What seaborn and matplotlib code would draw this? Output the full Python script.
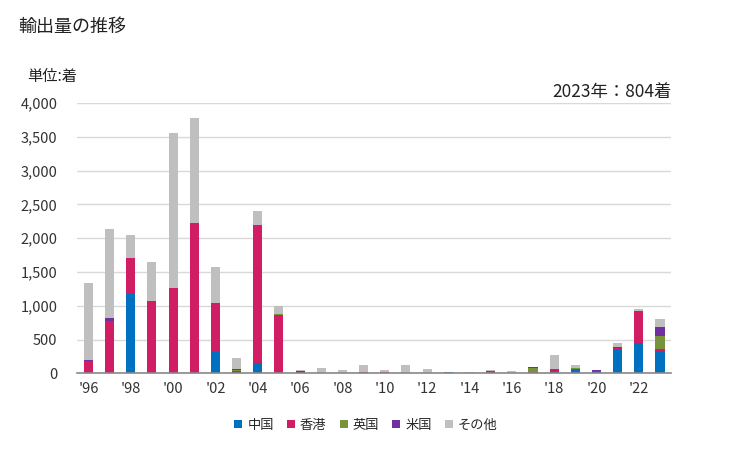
import matplotlib
matplotlib.use("Agg")
import matplotlib.pyplot as plt
import seaborn as sns
import pandas as pd
import numpy as np
from matplotlib.patches import Patch

years = list(range(1996, 2024))
china = [0, 0, 1180, 0, 0, 0, 316, 0, 148, 0, 0, 0, 0, 0, 0, 0, 0, 20, 0, 0, 0, 0, 30, 49, 30, 356, 449, 330]
hongkong = [180, 775, 528, 1071, 1264, 2227, 726, 40, 2049, 864, 20, 0, 0, 20, 25, 0, 0, 0, 0, 35, 0, 20, 34, 15, 0, 25, 474, 30]
uk = [0, 0, 0, 0, 0, 0, 0, 15, 0, 15, 0, 0, 0, 0, 0, 0, 0, 0, 0, 0, 0, 60, 0, 15, 0, 0, 0, 193]
usa = [15, 45, 0, 0, 0, 0, 0, 10, 0, 0, 15, 0, 0, 0, 0, 0, 0, 0, 0, 0, 0, 15, 0, 0, 15, 10, 0, 133]
other = [1143, 1318, 341, 578, 2296, 1555, 533, 162, 207, 118, 15, 80, 50, 103, 25, 123, 64, 0, 20, 15, 30, 0, 203, 40, 10, 58, 30, 118]
series_names = ["中国", "香港", "英国", "米国", "その他"]
colors = ["#0070C0", "#D11D64", "#77933C", "#7030A0", "#BFBFBF"]

sns.set_theme(style="white")
plt.rcParams['font.family'] = ['Noto Sans CJK JP', 'DejaVu Sans']

labels = [str(y) for y in years]
data = [china, hongkong, uk, usa, other]
cum = np.cumsum(np.array(data), axis=0)

fig = plt.figure(figsize=(7.29, 4.5), dpi=100)
ax = fig.add_axes([0.1056, 0.1704, 0.8148, 0.6007])

for i in range(len(series_names) - 1, -1, -1):
    df = pd.DataFrame({"year": labels, "value": cum[i]})
    sns.barplot(data=df, x="year", y="value", order=labels, color=colors[i],
                width=0.43, saturation=1, ax=ax, linewidth=0)

ax.set_xlim(-0.54, 27.52)
ax.set_ylim(0, 4000)
ax.set_yticks(np.arange(0, 4001, 500))
ax.set_yticklabels([f"{int(v):,}" for v in np.arange(0, 4001, 500)], fontsize=10.5, color="#333333")
ax.yaxis.grid(True, color="#D9D9D9", linewidth=1)
ax.set_axisbelow(True)
ax.set_xticks(range(len(years)))
ax.set_xticklabels([("'" + str(y)[2:]) if y % 2 == 0 else "" for y in years], fontsize=10.5, color="#333333")
ax.tick_params(axis="y", length=0, pad=14)
ax.tick_params(axis="x", length=0, pad=6)
ax.set_xlabel("")
ax.set_ylabel("")
for s in ["top", "right", "left"]:
    ax.spines[s].set_visible(False)
ax.spines["bottom"].set_color("#888888")
ax.spines["bottom"].set_linewidth(1.2)

fig.text(18 / 729, 1 - 27 / 450, "輸出量の推移", fontsize=13, va="center", ha="left", color="#222222")
fig.text(27 / 729, 1 - 77 / 450, "単位:着", fontsize=11, va="center", ha="left", color="#222222")
fig.text(672 / 729, 1 - 92 / 450, "2023年：804着", fontsize=12.5, va="center", ha="right", color="#222222")

handles = [Patch(facecolor=c, edgecolor="none") for c in colors]
fig.legend(handles, series_names, loc="center", bbox_to_anchor=(366 / 729, 1 - 425 / 450),
           ncol=5, frameon=False, fontsize=9.5, handlelength=0.6, handleheight=0.6,
           handletextpad=0.38, columnspacing=1.0)

fig.savefig("out.png", dpi=100)
